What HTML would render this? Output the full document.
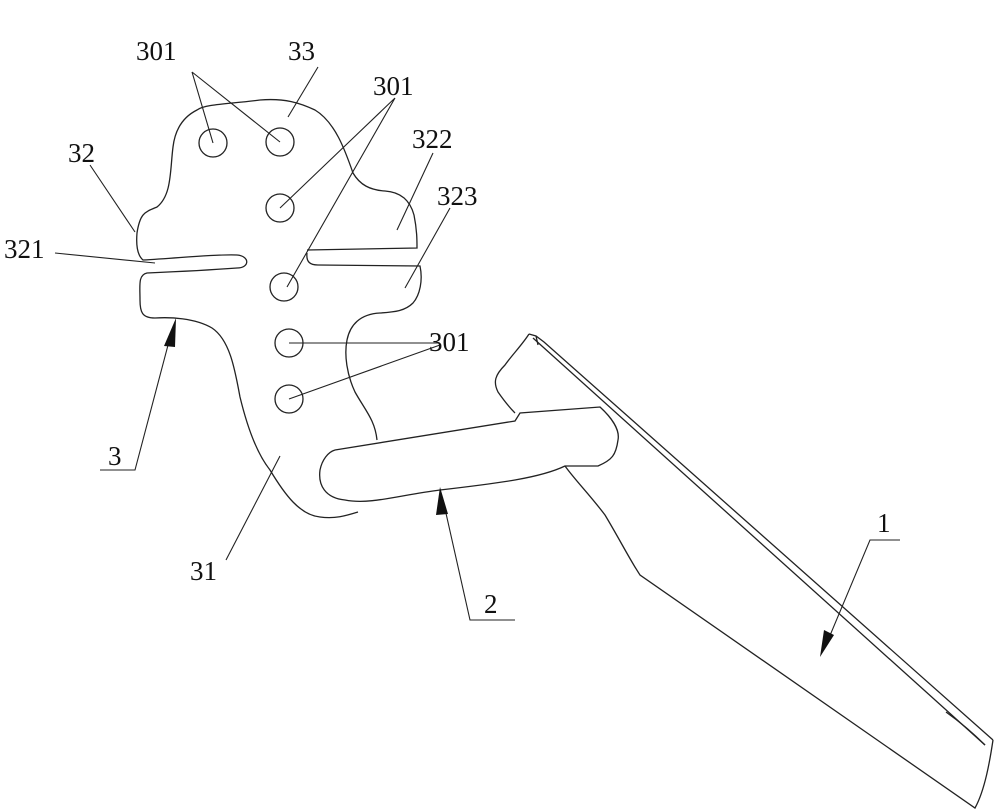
<!DOCTYPE html>
<html><head><style>
html,body{margin:0;padding:0;background:#fff;}
svg{display:block}
text{font-family:"Liberation Serif",serif;font-size:27px;fill:#111}
</style></head><body>
<svg width="1000" height="812" viewBox="0 0 1000 812" xmlns="http://www.w3.org/2000/svg">
<g fill="none" stroke="#222" stroke-width="1.3">
<!-- part 3 outline left -->
<path d="M260,100 C230,104 205,104 197,110 C183,117 175,130 173,147 C170,170 172,195 157,207 C145,212 140,213 137,233 C136,245 137,255 143,260 C180,258 215,254 237,255 C250,256 250,268 237,268 C210,270 170,272 147,273 C138,275 140,285 140,300 C140,312 142,318 155,318 C170,317 195,318 212,328 C230,340 235,370 240,397 C248,430 258,455 270,470 C285,495 300,515 320,517 C335,519 345,516 358,512"/>
<!-- part 3 outline right -->
<path d="M260,100 C285,98 300,103 315,110 C335,122 345,150 353,173 C360,185 370,190 385,191 C400,192 410,200 414,215 C417,230 417,240 417,248 L307,250"/>
<path d="M307,253 C306,262 310,265 318,265 L420,266 C423,280 420,295 413,303 C405,311 395,312 380,313 C360,314 350,325 347,340 C344,355 347,375 355,392 C365,410 375,420 377,440"/>
<!-- holes -->
<circle cx="213" cy="143" r="14"/><circle cx="280" cy="142" r="14"/>
<circle cx="280" cy="208" r="14"/><circle cx="284" cy="287" r="14"/>
<circle cx="289" cy="343" r="14"/><circle cx="289" cy="399" r="14"/>
<!-- part 2 handle -->
<path d="M335,450 L515,421 L520,413 L600,407 C612,418 620,430 618,440 C616,455 612,460 598,466 L565,466 C540,478 500,483 440,490 C400,495 370,505 345,500 C325,498 318,485 320,470 C322,460 328,452 335,450"/>
<!-- part 1 blade -->
<path d="M529,334 C522,345 512,355 505,365 C495,375 493,382 498,392 C505,402 512,410 515,413"/>
<path d="M529,334 L536,336 L544,342 L993,740"/>
<path d="M533,338 L985,745"/>
<path d="M536,336 L538,345"/>
<path d="M993,740 C990,760 985,790 975,808 L640,575 C630,560 620,540 605,515 C590,495 575,480 565,466"/>
<path d="M985,745 C975,735 960,722 946,712"/>
</g>
<!-- leaders -->
<g stroke="#222" stroke-width="1.1" fill="none">
<path d="M192,72 L213,143 M192,72 L280,142"/>
<path d="M318,67 L288,117"/>
<path d="M395,98 L280,208 M395,98 L287,287"/>
<path d="M433,153 L397,230"/>
<path d="M90,165 L135,232"/>
<path d="M450,208 L405,288"/>
<path d="M55,253 L155,263"/>
<path d="M440,343 L289,343 M440,345 L289,399"/>
<path d="M100,470 L135,470 L172,330"/>
<path d="M226,560 L280,456"/>
<path d="M515,620 L470,620 L443,500"/>
<path d="M900,540 L870,540 L826,645"/>
</g>
<g fill="#111">
<polygon points="176,318 164,346 175,347"/>
<polygon points="440,487 436,515 448,514"/>
<polygon points="820,657 824,630 834,635"/>
</g>
<text x="136" y="60">301</text>
<text x="288" y="60">33</text>
<text x="373" y="95">301</text>
<text x="412" y="148">322</text>
<text x="68" y="162">32</text>
<text x="437" y="205">323</text>
<text x="4" y="258">321</text>
<text x="429" y="351">301</text>
<text x="108" y="465">3</text>
<text x="190" y="580">31</text>
<text x="484" y="613">2</text>
<text x="877" y="532">1</text>
</svg>
</body></html>
